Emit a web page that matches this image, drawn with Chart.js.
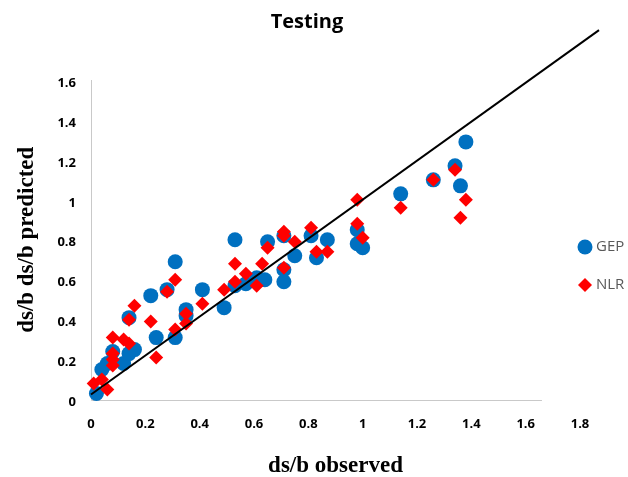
<!DOCTYPE html>
<html>
<head>
<meta charset="utf-8">
<script src="https://cdn.jsdelivr.net/npm/chart.js@4.4.0/dist/chart.umd.min.js"></script>
<style>
  html, body { margin: 0; padding: 0; background: #fff; }
</style>
</head>
<body>
<canvas id="myChart" width="628" height="477"></canvas>
<script>
// observed vs predicted
var gepObserved  = [0.02, 0.04, 0.06, 0.08, 0.12, 0.14, 0.16, 0.14, 0.22, 0.24, 0.28, 0.31, 0.31, 0.35, 0.35, 0.41, 0.49, 0.53, 0.53, 0.57, 0.61, 0.64, 0.65, 0.71, 0.71, 0.71, 0.75, 0.81, 0.83, 0.87, 0.98, 0.98, 1.00, 1.14, 1.26, 1.34, 1.36, 1.38];
var gepPredicted = [0.03, 0.15, 0.18, 0.24, 0.18, 0.23, 0.25, 0.41, 0.52, 0.31, 0.55, 0.69, 0.31, 0.45, 0.42, 0.55, 0.46, 0.80, 0.57, 0.58, 0.61, 0.60, 0.79, 0.82, 0.65, 0.59, 0.72, 0.82, 0.71, 0.80, 0.85, 0.78, 0.76, 1.03, 1.10, 1.17, 1.07, 1.29];

var nlrObserved  = [0.01, 0.04, 0.06, 0.08, 0.08, 0.08, 0.08, 0.12, 0.14, 0.14, 0.16, 0.22, 0.24, 0.28, 0.31, 0.31, 0.35, 0.35, 0.41, 0.49, 0.53, 0.53, 0.57, 0.61, 0.63, 0.65, 0.71, 0.71, 0.71, 0.75, 0.81, 0.83, 0.87, 0.98, 0.98, 1.00, 1.14, 1.26, 1.34, 1.36, 1.38];
var nlrPredicted = [0.08, 0.10, 0.05, 0.31, 0.23, 0.20, 0.17, 0.30, 0.28, 0.40, 0.47, 0.39, 0.21, 0.54, 0.60, 0.35, 0.43, 0.38, 0.48, 0.55, 0.68, 0.59, 0.63, 0.57, 0.68, 0.76, 0.84, 0.82, 0.66, 0.79, 0.86, 0.74, 0.74, 1.00, 0.88, 0.81, 0.96, 1.10, 1.15, 0.91, 1.00];

// the black reference line
var lineX = [0, 1.87];
var lineY = [0.025, 1.85];

var xTicks = [0, 0.2, 0.4, 0.6, 0.8, 1, 1.2, 1.4, 1.6, 1.8];
var yTicks = [0, 0.2, 0.4, 0.6, 0.8, 1, 1.2, 1.4, 1.6];
var xAxisEnd = 1.66;

function toPoints(xs, ys) {
    return xs.map((x, i) => ({ x: x, y: ys[i] }));
}

var tickFont = { family: 'Open Sans', size: 13, weight: 'bold' };
var titleFont = { family: 'Liberation Serif', size: 23, weight: 'bold' };

// light grey axis lines like the excel plot area
const axisLines = {
    id: 'axisLines',
    beforeDatasetsDraw(chart) {
        const x = chart.scales.x, y = chart.scales.y, ctx = chart.ctx;
        const x0 = Math.round(x.getPixelForValue(0)) + 0.5;
        const y0 = Math.round(y.getPixelForValue(0)) + 0.5;
        ctx.save();
        ctx.strokeStyle = '#c9c9c9';
        ctx.lineWidth = 1;
        ctx.beginPath();
        ctx.moveTo(x0, y.getPixelForValue(yTicks[yTicks.length - 1]));
        ctx.lineTo(x0, y0);
        ctx.lineTo(x.getPixelForValue(xAxisEnd), y0);
        ctx.stroke();
        ctx.restore();
    }
};

// legend on the right side, inside the padding
const sideLegend = {
    id: 'sideLegend',
    afterDraw(chart) {
        const ctx = chart.ctx;
        const lx = chart.chartArea.right + 5;
        const gy = 247, ny = 285;
        ctx.save();
        ctx.fillStyle = '#0070c0';
        ctx.beginPath();
        ctx.arc(lx, gy, 7.5, 0, Math.PI * 2);
        ctx.fill();
        ctx.fillStyle = '#ff0000';
        ctx.beginPath();
        ctx.moveTo(lx - 7, ny);
        ctx.lineTo(lx, ny - 7);
        ctx.lineTo(lx + 7, ny);
        ctx.lineTo(lx, ny + 7);
        ctx.closePath();
        ctx.fill();
        ctx.fillStyle = '#595959';
        ctx.font = '15px "Open Sans"';
        ctx.textBaseline = 'middle';
        ctx.fillText('GEP', lx + 11, gy);
        ctx.fillText('NLR', lx + 11, ny);
        ctx.restore();
    }
};

var myChart;
var ctx = document.getElementById('myChart').getContext('2d');
myChart = new Chart(ctx, {
    type: 'scatter',
    data: {
        datasets: [{
            label: 'line',
            data: toPoints(lineX, lineY),
            showLine: true,
            borderColor: '#000',
            borderWidth: 2,
            pointRadius: 0,
            clip: false,
            order: 0
        }, {
            label: 'NLR',
            data: toPoints(nlrObserved, nlrPredicted),
            pointStyle: 'rectRot',
            pointRadius: 7,
            backgroundColor: '#ff0000',
            borderWidth: 0,
            clip: false,
            order: 1
        }, {
            label: 'GEP',
            data: toPoints(gepObserved, gepPredicted),
            pointStyle: 'circle',
            pointRadius: 7.5,
            backgroundColor: '#0070c0',
            borderWidth: 0,
            clip: false,
            order: 2
        }]
    },
    options: {
        responsive: false,
        animation: false,
        devicePixelRatio: 1,
        layout: { padding: { left: 34, right: 48, top: 0, bottom: 0 } },
        plugins: {
            legend: { display: false },
            tooltip: { enabled: false },
            title: {
                display: true,
                text: 'Testing',
                color: '#000',
                font: { family: 'Open Sans', size: 20, weight: 'bold' },
                padding: { top: 10, bottom: 46 }
            }
        },
        scales: {
            x: {
                type: 'linear',
                min: 0,
                max: 1.8,
                grid: { display: false, drawTicks: false },
                border: { display: false },
                afterBuildTicks: s => { s.ticks = xTicks.map(v => ({ value: v })); },
                afterFit: s => { s.height = 77.5; },
                ticks: {
                    color: '#000',
                    font: tickFont,
                    padding: 17,
                    maxRotation: 0,
                    callback: v => String(+v.toFixed(1))
                },
                title: {
                    display: true,
                    text: 'ds/b observed',
                    color: '#000',
                    font: titleFont,
                    padding: { top: 0, bottom: -3 }
                }
            },
            y: {
                type: 'linear',
                min: 0,
                max: 1.6,
                grid: { display: false, drawTicks: false },
                border: { display: false },
                afterBuildTicks: s => { s.ticks = yTicks.map(v => ({ value: v })); },
                afterFit: s => { s.width = 57; },
                ticks: {
                    color: '#000',
                    font: tickFont,
                    padding: 15,
                    labelOffset: 3,
                    callback: v => String(+v.toFixed(1))
                },
                title: {
                    display: true,
                    text: 'ds/b ds/b predicted',
                    color: '#000',
                    font: titleFont,
                    padding: { top: -21, bottom: 0 }
                }
            }
        }
    },
    plugins: [axisLines, sideLegend]
});
</script>
</body>
</html>
